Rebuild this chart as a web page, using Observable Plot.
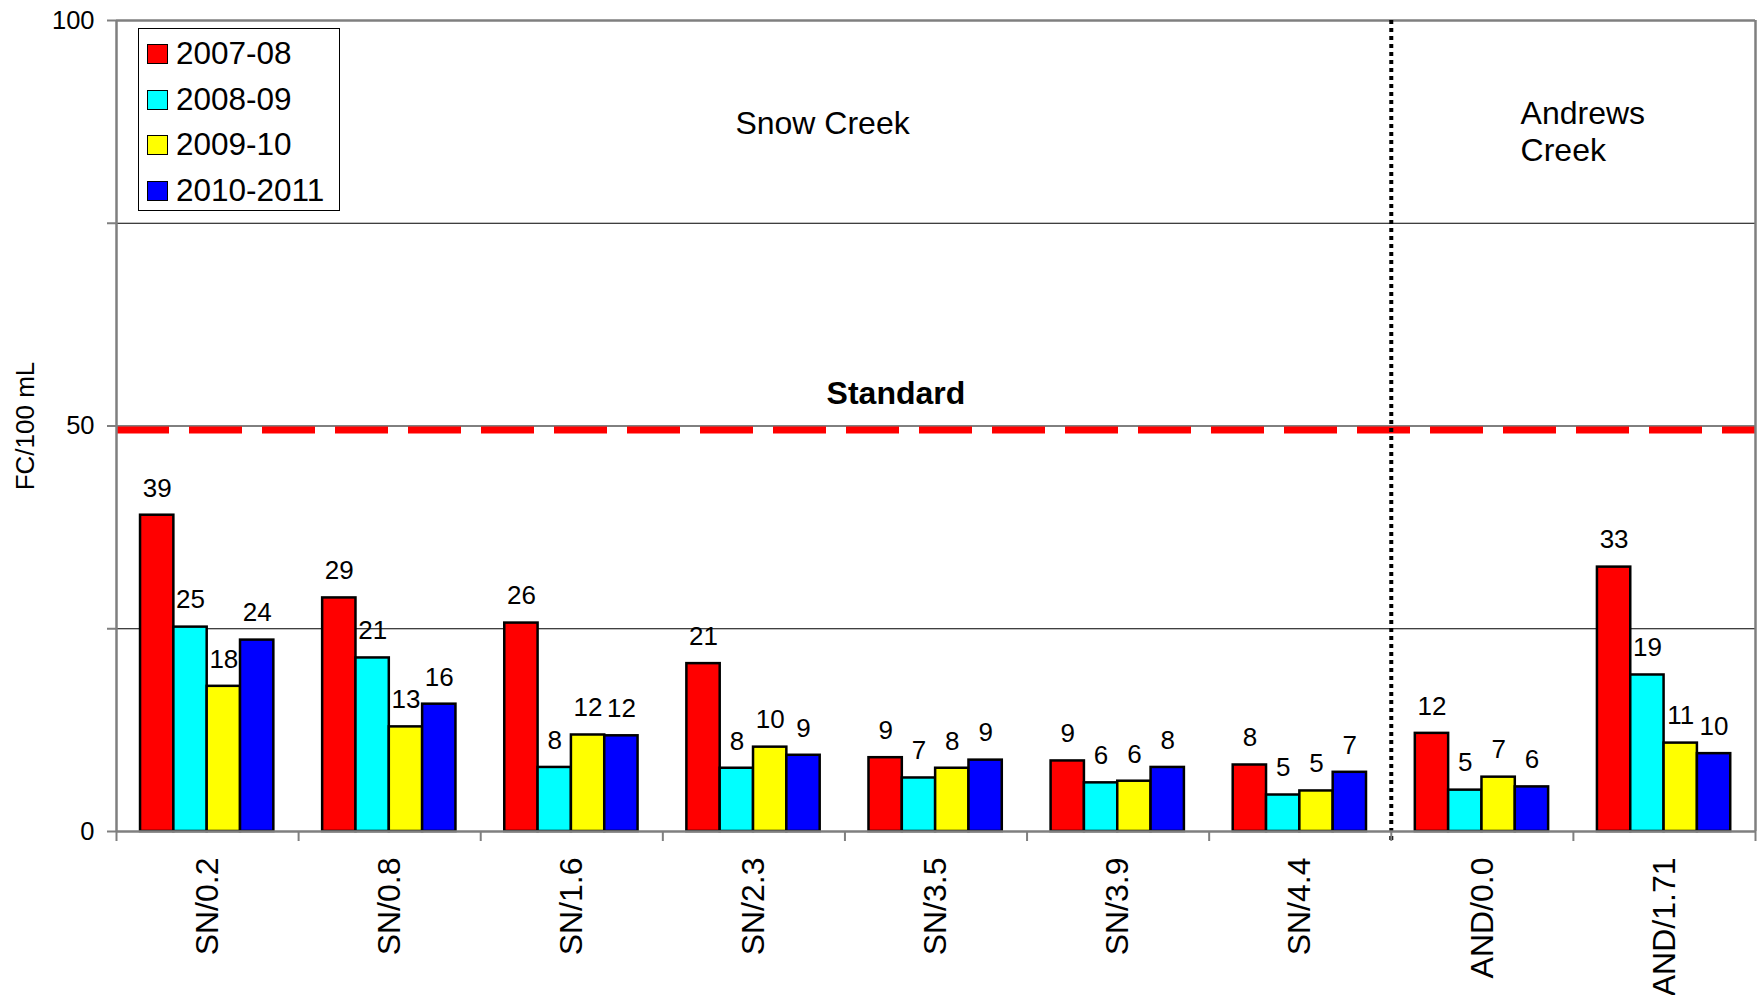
<!DOCTYPE html>
<html><head><meta charset="utf-8">
<script src="https://cdn.jsdelivr.net/npm/d3@7"></script>
<script src="https://cdn.jsdelivr.net/npm/@observablehq/plot@0.6"></script>
<style>
body{margin:0;background:#fff;}
#wrap{position:relative;width:1759px;height:995px;font-family:"Liberation Sans",Arial,sans-serif;}
#legend{position:absolute;left:138px;top:28px;width:202px;height:183px;border:1.5px solid #000;background:#fff;box-sizing:border-box;padding-top:2px;}
.row{height:45.7px;display:flex;align-items:center;font-size:31.5px;color:#000;line-height:1;}
.sw{width:21px;height:20px;border:1.5px solid #000;box-sizing:border-box;margin-left:8px;margin-right:8px;flex:none;}
</style></head>
<body><div id="wrap"></div>
<script>
const stations = ["SN/0.2","SN/0.8","SN/1.6","SN/2.3","SN/3.5","SN/3.9","SN/4.4","AND/0.0","AND/1.71"];
const seriesNames = ["2007-08","2008-09","2009-10","2010-2011"];
const seriesColors = ["#ff0000","#00ffff","#ffff00","#0000ff"];
const v2007_08 = [39.0, 28.8, 25.7, 20.7, 9.1, 8.7, 8.2, 12.1, 32.6];
const v2008_09 = [25.2, 21.4, 7.9, 7.8, 6.6, 6.0, 4.5, 5.1, 19.3];
const v2009_10 = [17.9, 12.9, 11.9, 10.4, 7.8, 6.2, 5.0, 6.7, 10.9];
const v2010_11 = [23.6, 15.7, 11.8, 9.4, 8.8, 7.9, 7.3, 5.5, 9.6];
const yTicks = [0, 25, 50, 75, 100];
const yLabeled = [0, 50, 100];
const standardValue = 49.5;
const dividerAt = 7;

const seriesValues = [v2007_08, v2008_09, v2009_10, v2010_11];
const groupOffset = 0.132, barWidth = 0.183;
const table = [];
stations.forEach((st, i) => seriesValues.forEach((vals, j) => table.push({
  station: st, series: seriesNames[j], value: vals[i],
  x1: i + groupOffset + j * barWidth, x2: i + groupOffset + (j + 1) * barWidth
})));

const gray = {stroke: "#7f7f7f", strokeWidth: 2.5};
const font = '"Liberation Sans", Arial, sans-serif';

const chart = Plot.plot({
  width: 1759, height: 995,
  marginLeft: 116, marginRight: 4, marginTop: 20, marginBottom: 164,
  x: {domain: [0, stations.length], axis: null},
  y: {domain: [0, 100], axis: null},
  color: {domain: seriesNames, range: seriesColors},
  style: {fontFamily: font, background: "#fff", color: "#000", overflow: "visible"},
  marks: [
    Plot.ruleY([25, 50, 75], {stroke: "#000", strokeWidth: 1}),
    Plot.ruleY([standardValue], {x1: 0, x2: stations.length, stroke: "#ff0000", strokeWidth: 7, strokeDasharray: "53,20"}),
    Plot.rect(table, {x1: "x1", x2: "x2", y1: 0, y2: "value", fill: "series", stroke: "#000", strokeWidth: 2.5}),
    Plot.text(table, {x: d => (d.x1 + d.x2) / 2, y: "value", text: d => String(Math.round(d.value)), dy: -27, fontSize: 26, fill: "#000"}),
    Plot.ruleY([100], gray),
    Plot.ruleX([0, stations.length], gray),
    Plot.ruleX([dividerAt], {y1: 100, y2: 0, insetBottom: -9, stroke: "#000", strokeWidth: 4, strokeDasharray: "4,4"}),
    Plot.ruleY([0], gray),
    Plot.axisY({ticks: yTicks, tickFormat: d => yLabeled.includes(d) ? String(d) : "", tickSize: 9, tickPadding: 13, fontSize: 25.5, label: null, stroke: "#7f7f7f", strokeWidth: 2, color: "#000"}),
    Plot.axisX({ticks: d3.range(stations.length + 1), tickFormat: () => "", tickSize: 10, label: null, stroke: "#7f7f7f", strokeWidth: 2}),
    Plot.axisX({ticks: stations.map((_, i) => i + 0.5), tickFormat: d => stations[Math.floor(d)], tickSize: 0, tickPadding: 26, tickRotate: -90, fontSize: 32, label: null, color: "#000"}),
    Plot.text(["Snow Creek"], {x: 3.877, y: 88.75, text: d => d, lineAnchor: "top", fontSize: 32, fill: "#000"}),
    Plot.text(["Andrews\nCreek"], {x: 7.71, y: 90.6, text: d => d, textAnchor: "start", lineAnchor: "top", fontSize: 32, lineHeight: 1.18, fill: "#000"}),
    Plot.text(["Standard"], {x: 4.28, y: 54, text: d => d, fontSize: 32, fontWeight: "bold", fill: "#000"}),
    Plot.text(["FC/100 mL"], {frameAnchor: "left", textAnchor: "middle", dx: -91, rotate: -90, fontSize: 26, text: d => d, fill: "#000"})
  ]
});

const wrap = document.getElementById("wrap");
wrap.appendChild(chart);
const legend = d3.select(wrap).append("div").attr("id", "legend");
seriesNames.forEach((name, j) => {
  const row = legend.append("div").attr("class", "row");
  row.append("div").attr("class", "sw").style("background", seriesColors[j]);
  row.append("span").text(name);
});
</script></body></html>
